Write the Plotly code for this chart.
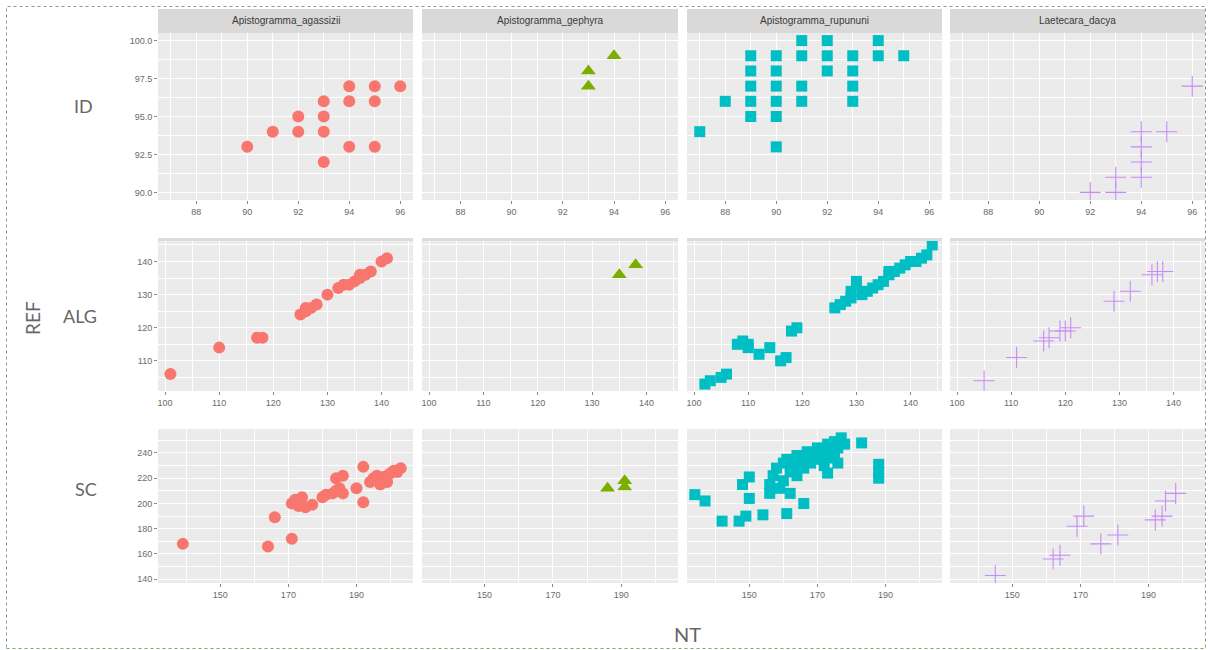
import plotly.graph_objects as go

W, H = 1208, 650

species = ["Apistogramma_agassizii", "Apistogramma_gephyra",
           "Apistogramma_rupununi", "Laetecara_dacya"]
measures = ["ID", "ALG", "SC"]

# ---------------- data (NT on x, REF on y) ----------------
agassizii_ID_nt = [90, 91, 92, 92, 93, 93, 93, 93, 94, 94, 94, 95, 95, 95, 96]
agassizii_ID_ref = [93, 94, 94, 95, 92, 94, 95, 96, 93, 96, 97, 93, 96, 97, 97]
gephyra_ID_nt = [93, 93, 94]
gephyra_ID_ref = [97, 98, 99]
rupununi_ID_nt = [87, 88, 89, 89, 89, 89, 89, 90, 90, 90, 90, 90, 90, 91, 91, 91, 91,
                  92, 92, 92, 93, 93, 93, 93, 94, 94, 95]
rupununi_ID_ref = [94, 96, 95, 96, 97, 98, 99, 93, 95, 96, 97, 98, 99, 96, 97, 99, 100,
                   98, 99, 100, 96, 97, 98, 99, 99, 100, 99]
dacya_ID_nt = [92, 93, 93, 94, 94, 94, 94, 95, 96]
dacya_ID_ref = [90, 90, 91, 91, 92, 93, 94, 94, 97]

agassizii_ALG_nt = [101, 110, 117, 118, 125, 126, 126, 127, 128, 130, 132, 133, 134, 135,
                    136, 136, 137, 138, 140, 141]
agassizii_ALG_ref = [106, 114, 117, 117, 124, 125, 126, 126, 127, 130, 132, 133, 133, 134,
                     135, 136, 136, 137, 140, 141]
gephyra_ALG_nt = [135, 138]
gephyra_ALG_ref = [136, 139]
rupununi_ALG_nt = [102, 103, 105, 106, 108, 109, 110, 110, 112, 114, 116, 117, 118, 119,
                   126, 127, 128, 129, 129, 130, 130, 131, 132, 133, 134, 135, 136, 136,
                   137, 138, 139, 140, 141, 142, 143, 144]
rupununi_ALG_ref = [103, 104, 105, 106, 115, 116, 115, 114, 112, 114, 110, 111, 119, 120,
                    126, 127, 128, 129, 131, 133, 134, 130, 131, 132, 133, 134, 136, 137,
                    137, 138, 139, 140, 140, 141, 142, 145]
dacya_ALG_nt = [105, 111, 116, 117, 119, 120, 121, 129, 132, 136, 137, 138]
dacya_ALG_ref = [104, 111, 116, 117, 119, 119, 120, 128, 131, 136, 137, 137]

agassizii_SC_nt = [139, 164, 166, 171, 171, 172, 173, 174, 175, 177, 180, 181, 183, 184,
                   185, 186, 184, 186, 190, 192, 192, 194, 195, 196, 197, 198, 199, 200,
                   201, 202, 203, 197, 199]
agassizii_SC_ref = [168, 166, 189, 172, 200, 203, 198, 205, 197, 199, 205, 207, 208, 210,
                    212, 208, 220, 222, 212, 229, 201, 217, 220, 222, 219, 221, 222, 224,
                    226, 225, 228, 215, 217]
gephyra_SC_nt = [186, 191, 191]
gephyra_SC_ref = [212, 213, 218]
rupununi_SC_nt = [134, 137, 142, 147, 149, 148, 150, 150, 154, 156, 156, 157, 158, 159,
                  160, 160, 161, 162, 163, 164, 164, 165, 166, 167, 167, 168, 169, 170,
                  170, 171, 172, 173, 173, 174, 175, 175, 176, 177, 178, 176, 162, 161,
                  166, 173, 183, 188, 188, 188]
rupununi_SC_ref = [207, 202, 186, 186, 190, 215, 221, 204, 191, 208, 215, 222, 228, 212,
                   232, 218, 235, 225, 230, 238, 222, 233, 228, 241, 236, 232, 239, 244,
                   235, 240, 230, 247, 238, 242, 249, 236, 244, 252, 247, 232, 208, 192,
                   200, 224, 248, 220, 225, 231]
dacya_SC_nt = [145, 162, 164, 169, 171, 176, 181, 192, 194, 195, 198]
dacya_SC_ref = [143, 156, 159, 182, 190, 168, 175, 187, 190, 202, 208]

# tick labels per row
ID_x_ticks = [88, 90, 92, 94, 96]
ID_y_ticks = [90, 92.5, 95, 97.5, 100]
ID_y_labels = ["90.0", "92.5", "95.0", "97.5", "100.0"]
ALG_x_ticks = [100, 110, 120, 130, 140]
ALG_y_ticks = [110, 120, 130, 140]
SC_x_ticks = [150, 170, 190]
SC_y_ticks = [140, 160, 180, 200, 220, 240]

data = {
    ("ID", 0): (agassizii_ID_nt, agassizii_ID_ref),
    ("ID", 1): (gephyra_ID_nt, gephyra_ID_ref),
    ("ID", 2): (rupununi_ID_nt, rupununi_ID_ref),
    ("ID", 3): (dacya_ID_nt, dacya_ID_ref),
    ("ALG", 0): (agassizii_ALG_nt, agassizii_ALG_ref),
    ("ALG", 1): (gephyra_ALG_nt, gephyra_ALG_ref),
    ("ALG", 2): (rupununi_ALG_nt, rupununi_ALG_ref),
    ("ALG", 3): (dacya_ALG_nt, dacya_ALG_ref),
    ("SC", 0): (agassizii_SC_nt, agassizii_SC_ref),
    ("SC", 1): (gephyra_SC_nt, gephyra_SC_ref),
    ("SC", 2): (rupununi_SC_nt, rupununi_SC_ref),
    ("SC", 3): (dacya_SC_nt, dacya_SC_ref),
}

# ---------------- styling / layout ----------------
colors = ["#F8766D", "#7CAE00", "#00BFC4", "#C77CFF"]
symbols = ["circle", "triangle-up", "square", "cross-thin"]
msizes = [12, 13, 11, 15]

col_px = [(158, 413), (422, 678), (687, 942), (950, 1205)]
row_px = [(33, 200), (238, 391), (429, 583)]
strip_px = (9, 33)

row_xrange = [[86.5, 96.5], [98.7, 145.8], [131.7, 206.6]]
row_yrange = [[89.5, 100.5], [100.9, 147.1], [137.0, 259.0]]
row_xticks = [ID_x_ticks, ALG_x_ticks, SC_x_ticks]
row_yticks = [ID_y_ticks, ALG_y_ticks, SC_y_ticks]
row_ylabels = [ID_y_labels, [str(v) for v in ALG_y_ticks], [str(v) for v in SC_y_ticks]]


def fx(p):
    return p / W


def fy(p):
    return 1 - p / H


def mids(ticks):
    step = ticks[1] - ticks[0]
    return [ticks[0] - step / 2] + [t + step / 2 for t in ticks]


tickfont = dict(family="Liberation Sans, Arial, sans-serif", size=9, color="#6b6b6b")
fig = go.Figure()
layout = {}

for r, m in enumerate(measures):
    for c in range(4):
        i = r * 4 + c + 1
        xs, ys = data[(m, c)]
        mk = dict(symbol=symbols[c], size=msizes[c], color=colors[c])
        if symbols[c] == "cross-thin":
            mk["line"] = dict(width=1.1, color="#C98BF5")
        else:
            mk["line"] = dict(width=0)
        fig.add_trace(go.Scatter(
            x=xs, y=ys, mode="markers", marker=mk, showlegend=False,
            xaxis="x" if i == 1 else f"x{i}", yaxis="y" if i == 1 else f"y{i}",
            hoverinfo="x+y"))
        xk = "xaxis" if i == 1 else f"xaxis{i}"
        yk = "yaxis" if i == 1 else f"yaxis{i}"
        layout[xk] = dict(
            domain=[fx(col_px[c][0]), fx(col_px[c][1])],
            anchor="y" if i == 1 else f"y{i}",
            range=row_xrange[r], tickmode="array", tickvals=row_xticks[r],
            ticktext=[str(v) for v in row_xticks[r]],
            showgrid=True, gridcolor="white", gridwidth=1.1,
            zeroline=False, showline=False,
            ticks="outside", ticklen=3, tickwidth=1, tickcolor="#888888",
            tickfont=tickfont,
            minor=dict(tickmode="array", tickvals=mids(row_xticks[r]),
                       showgrid=True, gridcolor="white", gridwidth=0.55, ticks=""),
        )
        layout[yk] = dict(
            domain=[fy(row_px[r][1]), fy(row_px[r][0])],
            anchor="x" if i == 1 else f"x{i}",
            range=row_yrange[r], tickmode="array", tickvals=row_yticks[r],
            ticktext=row_ylabels[r],
            showticklabels=(c == 0), ticks="outside" if c == 0 else "",
            ticklen=3, tickwidth=1, tickcolor="#888888",
            showgrid=True, gridcolor="white", gridwidth=1.1,
            zeroline=False, showline=False, tickfont=tickfont,
            minor=dict(tickmode="array", tickvals=mids(row_yticks[r]),
                       showgrid=True, gridcolor="white", gridwidth=0.55, ticks=""),
        )

shapes = []
annotations = []
# strips on top row
for c in range(4):
    shapes.append(dict(type="rect", xref="paper", yref="paper",
                       x0=fx(col_px[c][0]), x1=fx(col_px[c][1]),
                       y0=fy(strip_px[1]), y1=fy(strip_px[0]),
                       fillcolor="#D9D9D9", line=dict(width=0), layer="below"))
    annotations.append(dict(text=species[c], xref="paper", yref="paper",
                            x=fx((col_px[c][0] + col_px[c][1]) / 2),
                            y=fy((strip_px[0] + strip_px[1]) / 2),
                            showarrow=False, xanchor="center", yanchor="middle",
                            font=dict(family="Liberation Sans, Arial, sans-serif",
                                      size=10, color="#3a3a3a")))
    # thin strip band on top of the ALG row
    shapes.append(dict(type="rect", xref="paper", yref="paper",
                       x0=fx(col_px[c][0]), x1=fx(col_px[c][1]),
                       y0=fy(row_px[1][0] + 3), y1=fy(row_px[1][0]),
                       fillcolor="#DCDCDC", line=dict(width=0), layer="above"))

label_font = dict(family="Lato, 'Open Sans', sans-serif", size=18, color="#666666")
row_label_pos = [(83, 106), (80, 316), (86, 489)]
for r, m in enumerate(measures):
    annotations.append(dict(text=m, xref="paper", yref="paper",
                            x=fx(row_label_pos[r][0]), y=fy(row_label_pos[r][1]),
                            showarrow=False, xanchor="center", yanchor="middle",
                            font=label_font))
annotations.append(dict(text="REF", xref="paper", yref="paper", x=fx(32), y=fy(318),
                        textangle=-90, showarrow=False, xanchor="center", yanchor="middle",
                        font=dict(family="Lato, 'Open Sans', sans-serif", size=19,
                                  color="#666666")))
annotations.append(dict(text="NT", xref="paper", yref="paper", x=fx(687), y=fy(634),
                        showarrow=False, xanchor="center", yanchor="middle",
                        font=dict(family="Lato, 'Open Sans', sans-serif", size=20,
                                  color="#666666")))

# dotted outer border
shapes.append(dict(type="rect", xref="paper", yref="paper",
                   x0=fx(6.5), x1=fx(1205.5), y0=fy(648.5), y1=fy(6.5),
                   line=dict(color="#86A070", width=1, dash="dot"),
                   fillcolor="rgba(0,0,0,0)", layer="above"))

fig.update_layout(
    width=W, height=H, margin=dict(l=0, r=0, t=0, b=0),
    paper_bgcolor="white", plot_bgcolor="#EBEBEB",
    shapes=shapes, annotations=annotations, showlegend=False,
    **layout,
)

fig.write_html("out.html")
